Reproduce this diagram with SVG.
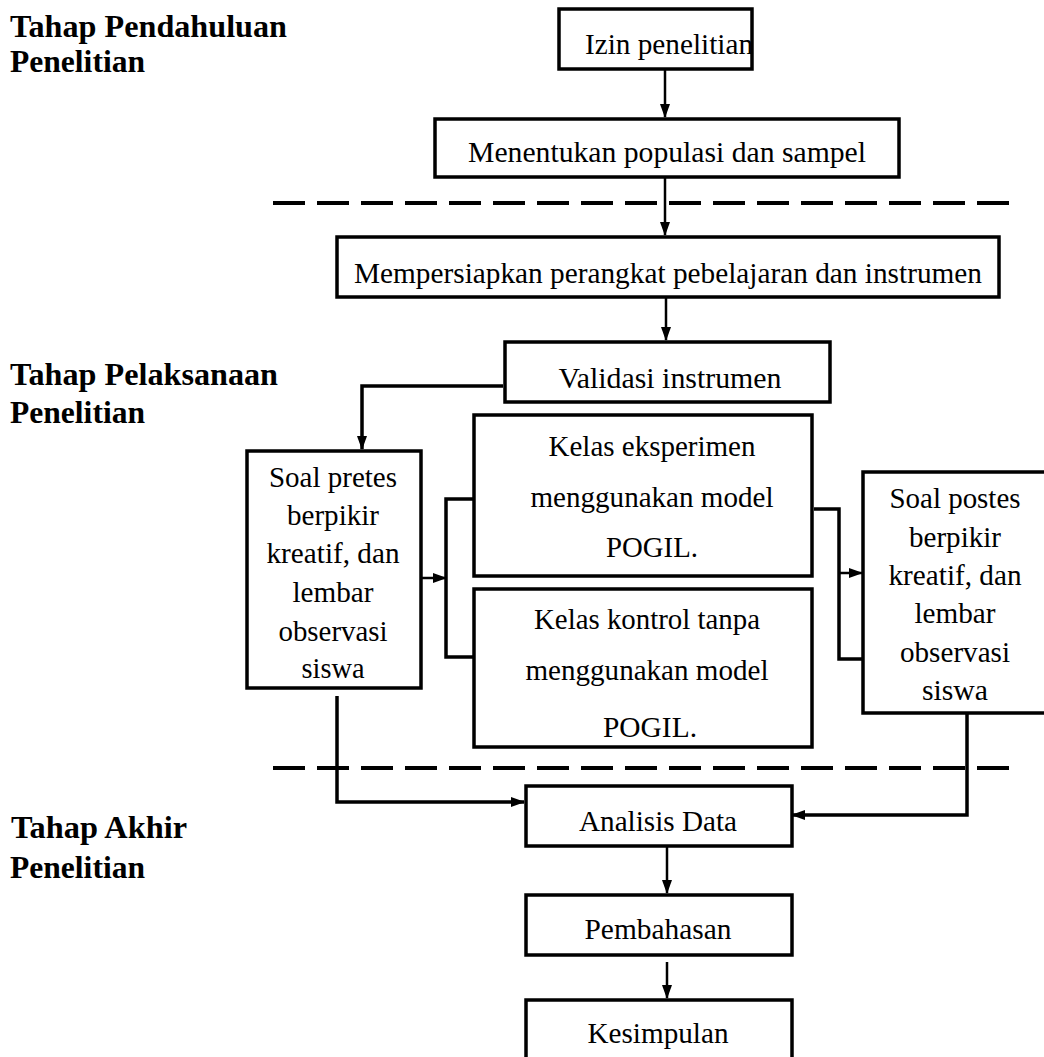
<svg xmlns="http://www.w3.org/2000/svg" width="1044" height="1057" viewBox="0 0 1044 1057">
<defs>
<marker id="ah" markerWidth="14" markerHeight="10" refX="13" refY="5" orient="auto" markerUnits="userSpaceOnUse"><path d="M0,0 L14,5 L0,10 z" fill="#000"/></marker>
<clipPath id="clipPre"><rect x="245" y="440" width="180" height="242"/></clipPath>
</defs>
<style>
.box{fill:#fff;stroke:#000;stroke-width:3.5}
.t{font-family:'Liberation Serif','DejaVu Serif',serif;font-size:29px;fill:#000;text-anchor:middle}
.h{font-family:'Liberation Serif','DejaVu Serif',serif;font-size:31.5px;font-weight:bold;fill:#000}
.c{fill:none;stroke:#000;stroke-width:2.5}
.b{fill:none;stroke:#000;stroke-width:3.5}
.d{fill:none;stroke:#000;stroke-width:4;stroke-dasharray:32 12}
</style>
<rect width="1044" height="1057" fill="#fff"/>

<g id="headings">
<text class="h" x="10" y="37" textLength="277" lengthAdjust="spacingAndGlyphs">Tahap Pendahuluan</text>
<text class="h" x="10" y="72" textLength="135" lengthAdjust="spacingAndGlyphs">Penelitian</text>
<text class="h" x="10" y="385" textLength="268" lengthAdjust="spacingAndGlyphs">Tahap Pelaksanaan</text>
<text class="h" x="10" y="423" textLength="135" lengthAdjust="spacingAndGlyphs">Penelitian</text>
<text class="h" x="11" y="838" textLength="176" lengthAdjust="spacingAndGlyphs">Tahap Akhir</text>
<text class="h" x="10" y="878" textLength="135" lengthAdjust="spacingAndGlyphs">Penelitian</text>
</g>

<g id="separators">
<line class="d" x1="273" y1="203" x2="1010" y2="203"/>
<line class="d" x1="273" y1="768" x2="1010" y2="768"/>
</g>

<g id="connectors">
<line class="c" x1="665" y1="70" x2="665" y2="117" marker-end="url(#ah)"/>
<line class="c" x1="665" y1="178" x2="665" y2="235" marker-end="url(#ah)"/>
<line class="c" x1="666" y1="298" x2="666" y2="340" marker-end="url(#ah)"/>
<polyline class="b" points="503,386 362,386 362,449" marker-end="url(#ah)"/>
<line class="c" x1="420" y1="578" x2="446" y2="578" marker-end="url(#ah)"/>
<polyline class="b" points="473,499 446,499 446,657 473,657"/>
<polyline class="b" points="814,509 839,509 839,659 862,659"/>
<line class="c" x1="839" y1="573" x2="862" y2="573" marker-end="url(#ah)"/>
<polyline class="b" points="337,696 337,802 524,802" marker-end="url(#ah)"/>
<polyline class="b" points="967,714 967,815 792,815" marker-end="url(#ah)"/>
<line class="c" x1="667" y1="847" x2="667" y2="893" marker-end="url(#ah)"/>
<line class="c" x1="667" y1="962" x2="667" y2="998" marker-end="url(#ah)"/>
</g>

<g id="izin">
<rect class="box" x="559" y="9" width="193" height="60"/>
<text class="t" x="669" y="54" textLength="168" lengthAdjust="spacingAndGlyphs">Izin penelitian</text>
</g>

<g id="menentukan">
<rect class="box" x="435" y="119" width="464" height="58"/>
<text class="t" x="667" y="162" textLength="398" lengthAdjust="spacingAndGlyphs">Menentukan populasi dan sampel</text>
</g>

<g id="mempersiapkan">
<rect class="box" x="337" y="237" width="662" height="60"/>
<text class="t" x="668" y="283" textLength="628" lengthAdjust="spacingAndGlyphs">Mempersiapkan perangkat pebelajaran dan instrumen</text>
</g>

<g id="validasi">
<rect class="box" x="505" y="342" width="325" height="60"/>
<text class="t" x="670" y="388" textLength="223" lengthAdjust="spacingAndGlyphs">Validasi instrumen</text>
</g>

<g id="pretes">
<rect class="box" x="247" y="451" width="174" height="237"/>
<g clip-path="url(#clipPre)">
<text class="t" x="333" y="487" textLength="128" lengthAdjust="spacingAndGlyphs">Soal pretes</text>
<text class="t" x="333" y="525" textLength="92" lengthAdjust="spacingAndGlyphs">berpikir</text>
<text class="t" x="333" y="563" textLength="133" lengthAdjust="spacingAndGlyphs">kreatif, dan</text>
<text class="t" x="333" y="602" textLength="81" lengthAdjust="spacingAndGlyphs">lembar</text>
<text class="t" x="333" y="641" textLength="109" lengthAdjust="spacingAndGlyphs">observasi</text>
<text class="t" x="333" y="678" textLength="63" lengthAdjust="spacingAndGlyphs">siswa</text>
</g>
</g>

<g id="eksperimen">
<rect class="box" x="474" y="415" width="338" height="161"/>
<text class="t" x="652" y="456" textLength="207" lengthAdjust="spacingAndGlyphs">Kelas eksperimen</text>
<text class="t" x="652" y="507" textLength="243" lengthAdjust="spacingAndGlyphs">menggunakan model</text>
<text class="t" x="652" y="557" textLength="92" lengthAdjust="spacingAndGlyphs">POGIL.</text>
</g>

<g id="kontrol">
<rect class="box" x="474" y="589" width="338" height="158"/>
<text class="t" x="647" y="629" textLength="226" lengthAdjust="spacingAndGlyphs">Kelas kontrol tanpa</text>
<text class="t" x="647" y="680" textLength="243" lengthAdjust="spacingAndGlyphs">menggunakan model</text>
<text class="t" x="650" y="737" textLength="94" lengthAdjust="spacingAndGlyphs">POGIL.</text>
</g>

<g id="postes">
<rect class="box" x="863" y="472" width="200" height="241"/>
<text class="t" x="955" y="508" textLength="131" lengthAdjust="spacingAndGlyphs">Soal postes</text>
<text class="t" x="955" y="547" textLength="92" lengthAdjust="spacingAndGlyphs">berpikir</text>
<text class="t" x="955" y="585" textLength="133" lengthAdjust="spacingAndGlyphs">kreatif, dan</text>
<text class="t" x="955" y="623" textLength="81" lengthAdjust="spacingAndGlyphs">lembar</text>
<text class="t" x="955" y="662" textLength="110" lengthAdjust="spacingAndGlyphs">observasi</text>
<text class="t" x="955" y="700" textLength="66" lengthAdjust="spacingAndGlyphs">siswa</text>
</g>

<g id="analisis">
<rect class="box" x="526" y="786" width="266" height="60"/>
<text class="t" x="658" y="831" textLength="158" lengthAdjust="spacingAndGlyphs">Analisis Data</text>
</g>

<g id="pembahasan">
<rect class="box" x="526" y="895" width="266" height="60"/>
<text class="t" x="658" y="939" textLength="147" lengthAdjust="spacingAndGlyphs">Pembahasan</text>
</g>

<g id="kesimpulan">
<rect class="box" x="526" y="1000" width="266" height="70"/>
<text class="t" x="658" y="1043" textLength="141" lengthAdjust="spacingAndGlyphs">Kesimpulan</text>
</g>
</svg>
